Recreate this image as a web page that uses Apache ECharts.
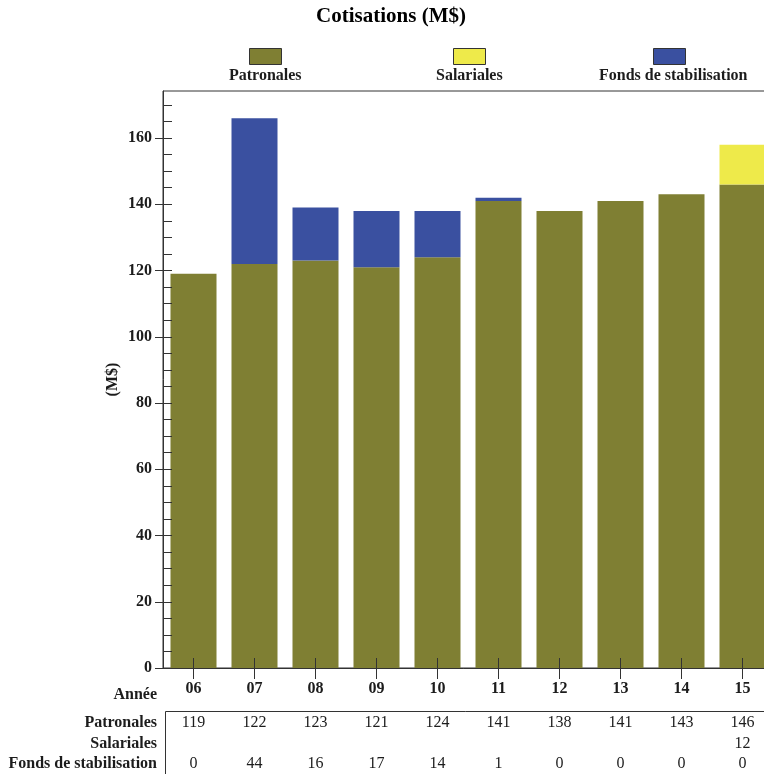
<!DOCTYPE html>
<html>
<head>
<meta charset="utf-8">
<style>
  html, body { margin: 0; padding: 0; background: #fff; }
  #chart { width: 764px; height: 774px; }
</style>
<script src="https://cdn.jsdelivr.net/npm/echarts@6/dist/echarts.min.js"></script>
</head>
<body>
<div id="chart"></div>
<script>
// Contributions by year, in millions of dollars
const years = ['06', '07', '08', '09', '10', '11', '12', '13', '14', '15'];
const patronales = [119, 122, 123, 121, 124, 141, 138, 141, 143, 146];
const salariales = [null, null, null, null, null, null, null, null, null, 12];
const fonds = [0, 44, 16, 17, 14, 1, 0, 0, 0, 0];

const yMajorTicks = [0, 20, 40, 60, 80, 100, 120, 140, 160];
const yMinorTicks = [0, 5, 10, 15, 20, 25, 30, 35, 40, 45, 50, 55, 60, 65, 70, 75, 80,
  85, 90, 95, 100, 105, 110, 115, 120, 125, 130, 135, 140, 145, 150, 155, 160, 165, 170];
const yMax = 174.2;

const seriesNames = ['Patronales', 'Salariales', 'Fonds de stabilisation'];
const colors = ['#7f7f33', '#eeea4a', '#3a50a0'];

const FONT = 'Liberation Serif';
const INK = '#1c1c1c';
const LINE = '#333333';

const chart = echarts.init(document.getElementById('chart'), null, { renderer: 'canvas' });

// Row values of the table under the chart, as strings (blank when no value)
const asRow = arr => arr.map(v => (v === null || v === undefined) ? '' : String(v));

// Legend: swatch above its label, one component per swatch and per label
const legendSwatchLeft = [249, 453, 653];
const legendTextLeft = [224, 431, 594];
const legends = [];
seriesNames.forEach((name, i) => {
  legends.push({
    data: [name],
    left: legendSwatchLeft[i], top: 48, padding: 0,
    icon: 'rect', itemWidth: 32, itemHeight: 16,
    itemStyle: { borderColor: LINE, borderWidth: 1 },
    formatter: () => '',
    selectedMode: false
  });
  legends.push({
    data: [name],
    left: legendTextLeft[i], top: 68, padding: 0,
    icon: 'none', itemWidth: 0, itemHeight: 0,
    textStyle: { fontFamily: FONT, fontWeight: 'bold', fontSize: 16, color: INK },
    selectedMode: false
  });
});

// Table rows drawn as extra category axes below the chart
const tableRows = [
  { name: 'Patronales', values: patronales, offset: 55 },
  { name: 'Salariales', values: salariales, offset: 76 },
  { name: 'Fonds de stabilisation', values: fonds, offset: 96 }
];
const tableAxes = tableRows.map(row => ({
  type: 'category', gridIndex: 0, position: 'bottom', offset: row.offset,
  data: asRow(row.values),
  axisLine: { show: false }, axisTick: { show: false }, splitLine: { show: false },
  axisLabel: { show: true, interval: 0, margin: 0, verticalAlign: 'middle',
    fontFamily: FONT, fontSize: 16, color: INK },
  name: row.name, nameLocation: 'start', nameGap: 6,
  nameTextStyle: { fontFamily: FONT, fontWeight: 'bold', fontSize: 16, color: INK,
    align: 'right', verticalAlign: 'middle' }
}));

const option = {
  backgroundColor: '#ffffff',
  animation: false,
  title: {
    text: 'Cotisations (M$)',
    left: 391, top: 6, textAlign: 'center', padding: 0,
    textStyle: { fontFamily: FONT, fontWeight: 'bold', fontSize: 21, color: '#000' }
  },
  legend: legends,
  // the plot area runs past the right edge of the page
  grid: {
    left: 163, top: 91, width: 610, height: 577,
    outerBoundsMode: 'none', containLabel: false,
    show: true, borderColor: LINE, borderWidth: 1, backgroundColor: 'transparent'
  },
  graphic: [{
    type: 'rect', left: 163, top: 709, z: 0,
    shape: { width: 700, height: 200 },
    style: { fill: 'none', stroke: LINE, lineWidth: 1 }
  }],
  xAxis: [
    {
      type: 'category', data: years, position: 'bottom', z: 10,
      axisLine: { show: true, lineStyle: { color: LINE, width: 1 } },
      axisTick: { show: true, alignWithLabel: true, length: 11, inside: false,
        lineStyle: { color: LINE } },
      axisLabel: { margin: 13, fontFamily: FONT, fontWeight: 'bold', fontSize: 16, color: INK },
      splitLine: { show: false }
    },
    {
      type: 'category', data: years, position: 'bottom', z: 10,
      axisLine: { show: false },
      axisTick: { show: true, alignWithLabel: true, length: 10, inside: true,
        lineStyle: { color: LINE } },
      axisLabel: { show: false },
      splitLine: { show: false }
    },
    {
      type: 'category', data: years, position: 'bottom', offset: 27,
      axisLine: { show: false }, axisTick: { show: false }, axisLabel: { show: false },
      splitLine: { show: false },
      name: 'Année', nameLocation: 'start', nameGap: 6,
      nameTextStyle: { fontFamily: FONT, fontWeight: 'bold', fontSize: 16, color: INK,
        align: 'right', verticalAlign: 'middle' }
    },
    ...tableAxes
  ],
  yAxis: [
    {
      type: 'value', min: 0, max: yMax, interval: 20, position: 'left', z: 10,
      axisLine: { show: true, lineStyle: { color: LINE, width: 1 } },
      axisTick: { show: true, inside: false, length: 8, customValues: yMajorTicks,
        lineStyle: { color: LINE } },
      axisLabel: { margin: 11, customValues: yMajorTicks, fontFamily: FONT,
        fontWeight: 'bold', fontSize: 16, color: INK },
      splitLine: { show: false },
      name: '(M$)', nameLocation: 'middle', nameGap: 42, nameRotate: 90,
      nameMoveOverlap: false,
      nameTextStyle: { fontFamily: FONT, fontWeight: 'bold', fontSize: 16, color: INK }
    },
    {
      type: 'value', min: 0, max: yMax, interval: 5, position: 'left', z: 10,
      axisLine: { show: false },
      axisTick: { show: true, inside: true, length: 9, customValues: yMinorTicks,
        lineStyle: { color: LINE } },
      axisLabel: { show: false },
      splitLine: { show: false }
    }
  ],
  series: [
    { name: seriesNames[0], type: 'bar', stack: 'total', data: patronales,
      barWidth: 46, itemStyle: { color: colors[0] } },
    { name: seriesNames[1], type: 'bar', stack: 'total', data: salariales,
      barWidth: 46, itemStyle: { color: colors[1] } },
    { name: seriesNames[2], type: 'bar', stack: 'total', data: fonds,
      barWidth: 46, itemStyle: { color: colors[2] } }
  ]
};

chart.setOption(option);
</script>
</body>
</html>
